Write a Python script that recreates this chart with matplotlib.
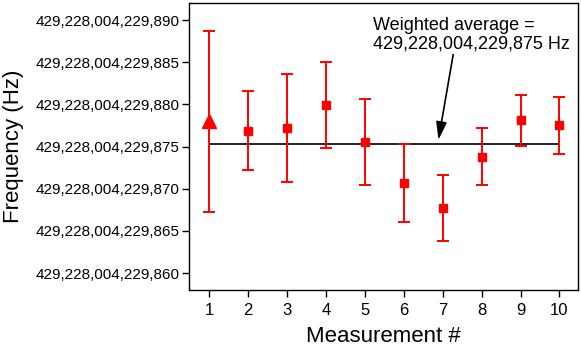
import matplotlib

matplotlib.use("Agg")
import matplotlib.pyplot as plt
from matplotlib.ticker import FuncFormatter

plt.rcParams["font.family"] = ["Liberation Sans", "DejaVu Sans"]

# frequencies are given as offsets (Hz) from BASE_HZ
BASE_HZ = 429228004229000
measurement = [1, 2, 3, 4, 5, 6, 7, 8, 9, 10]
freq_offset = [878.0, 876.9, 877.2, 879.9, 875.5, 870.7, 867.7, 873.8, 878.1, 877.5]
freq_err = [10.7, 4.7, 6.35, 5.1, 5.1, 4.65, 3.9, 3.4, 3.0, 3.4]
weighted_avg = 875.3
y_ticks = [860, 865, 870, 875, 880, 885, 890]

fig = plt.figure(figsize=(5.81, 3.49), dpi=100)
ax = fig.add_axes([0.326, 0.169, 0.669, 0.822])

red = "#ff0000"
# first measurement drawn as a triangle, the rest as squares
ax.errorbar(measurement[:1], freq_offset[:1], yerr=freq_err[:1], fmt="^", color=red,
            ms=9.5, elinewidth=1.4, capsize=4.5, capthick=1.4, zorder=3)
ax.errorbar(measurement[1:], freq_offset[1:], yerr=freq_err[1:], fmt="s", color=red,
            ms=6, elinewidth=1.4, capsize=4.5, capthick=1.4, zorder=3)

ax.plot([measurement[0], measurement[-1]], [weighted_avg, weighted_avg],
        color="black", lw=1.2, zorder=2)

ax.annotate("", xy=(6.89, 875.8), xytext=(7.27, 885.9),
            arrowprops=dict(arrowstyle="-|>,head_length=0.6,head_width=0.18",
                            color="black", lw=1.2, mutation_scale=18,
                            shrinkA=0, shrinkB=0))
ax.text(5.2, 890.4, "Weighted average =\n429,228,004,229,875 Hz", fontsize=13,
        ha="left", va="top", linespacing=1.15)

ax.set_xlim(0.49, 10.48)
ax.set_ylim(858, 892)
ax.set_xticks(measurement)
ax.set_yticks(y_ticks)
ax.yaxis.set_major_formatter(FuncFormatter(lambda v, p: f"{BASE_HZ + int(round(v)):,}"))

ax.tick_params(axis="both", direction="out", length=5, width=1, top=False, right=False)
ax.tick_params(axis="y", labelsize=11, pad=2)
ax.tick_params(axis="x", labelsize=12, pad=4)
for s in ax.spines.values():
    s.set_linewidth(1.0)

ax.set_xlabel("Measurement #", fontsize=16, labelpad=6)
ax.set_ylabel("Frequency (Hz)", fontsize=16)
ax.yaxis.set_label_coords(-0.425, 0.5)

fig.savefig("out.png", dpi=100)
